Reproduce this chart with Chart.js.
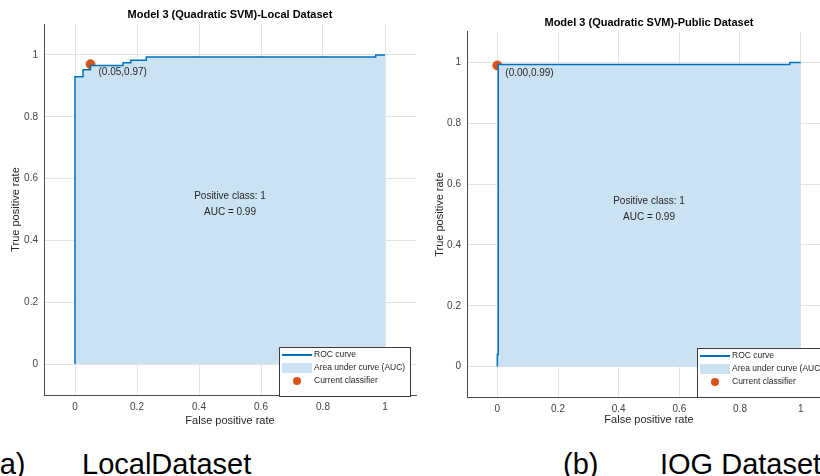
<!DOCTYPE html>
<html>
<head>
<meta charset="utf-8">
<script src="https://cdn.jsdelivr.net/npm/chart.js@4.4.1/dist/chart.umd.min.js"></script>
<style>
  html, body { margin: 0; padding: 0; background: #fff; }
  body { width: 820px; height: 476px; overflow: hidden; position: relative; font-family: "Liberation Sans", Arial, sans-serif; }
  .panel { position: absolute; top: 0; height: 440px; }
  #panelA { left: 0; width: 430px; }
  #panelB { left: 410px; width: 440px; }
  .cap { position: absolute; top: 450px; font-size: 29px; line-height: 1; color: #000; white-space: pre; }
</style>
</head>
<body>
<div class="panel" id="panelA"><canvas id="rocA"></canvas></div>
<div class="panel" id="panelB"><canvas id="rocB"></canvas></div>
<div class="cap" style="left:-10px">(a)</div>
<div class="cap" style="left:82px">LocalDataset</div>
<div class="cap" style="left:563px">(b)</div>
<div class="cap" style="left:660px">IOG Dataset</div>

<script>
// ROC points (false positive rate, true positive rate)
const localFpr = [0, 0, 0.026, 0.026, 0.05, 0.05, 0.155, 0.155, 0.18, 0.18, 0.23, 0.23, 0.97, 0.97, 1];
const localTpr = [0, 0.929, 0.929, 0.952, 0.952, 0.966, 0.966, 0.975, 0.975, 0.983, 0.983, 0.993, 0.993, 1, 1];
const publicFpr = [0, 0, 0.003, 0.003, 0.964, 0.964, 1];
const publicTpr = [0, 0.04, 0.04, 0.993, 0.993, 1, 1];

// current classifier operating points
const localOp = [0.05, 0.97];
const publicOp = [0.00, 0.99];

const tickValues = [0, 0.2, 0.4, 0.6, 0.8, 1];
const legendLabels = ['ROC curve', 'Area under curve (AUC)', 'Current classifier'];
const aucText = ['Positive class: 1', 'AUC = 0.99'];

const FONT = '"Liberation Sans", Arial, sans-serif';
const BLUE = '#0072BD';
const FILL = 'rgb(203,226,242)';
const ORANGE = '#D95319';

// text inside the plot and the legend box
const rocExtras = {
  id: 'rocExtras',
  afterDraw(chart, args, opts) {
    const { ctx, chartArea, scales: { x, y } } = chart;
    ctx.save();
    ctx.fillStyle = '#262626';
    ctx.textBaseline = 'middle';

    // operating point label
    ctx.font = '10px ' + FONT;
    ctx.textAlign = 'left';
    const op = opts.op;
    ctx.fillText('(' + op[0].toFixed(2) + ',' + op[1].toFixed(2) + ')',
      x.getPixelForValue(op[0]) + 8, y.getPixelForValue(op[1]) + 8);

    // AUC text
    ctx.textAlign = 'center';
    ctx.fillText(aucText[0], x.getPixelForValue(0.5), y.getPixelForValue(0.543));
    ctx.fillText(aucText[1], x.getPixelForValue(0.5), y.getPixelForValue(0.492));

    // legend
    ctx.font = '8.5px ' + FONT;
    const tw = Math.max(...legendLabels.map(t => ctx.measureText(t).width));
    const w = Math.round(35 + tw + 5), h = 49;
    const x0 = Math.round(chartArea.right - opts.right - w);
    const y0 = Math.round(chartArea.bottom + opts.bottom - h);
    ctx.fillStyle = '#fff';
    ctx.fillRect(x0, y0, w, h);
    ctx.strokeStyle = '#3c3c3c';
    ctx.lineWidth = 1;
    ctx.strokeRect(x0 + 0.5, y0 + 0.5, w, h);
    const rows = [8, 21, 34];
    ctx.strokeStyle = BLUE;
    ctx.lineWidth = 2;
    ctx.beginPath();
    ctx.moveTo(x0 + 3, y0 + rows[0]);
    ctx.lineTo(x0 + 33, y0 + rows[0]);
    ctx.stroke();
    ctx.fillStyle = FILL;
    ctx.fillRect(x0 + 3, y0 + rows[1] - 5, 30, 10);
    ctx.fillStyle = ORANGE;
    ctx.beginPath();
    ctx.arc(x0 + 18, y0 + rows[2], 4, 0, Math.PI * 2);
    ctx.fill();
    ctx.fillStyle = '#262626';
    ctx.textAlign = 'left';
    legendLabels.forEach((t, i) => ctx.fillText(t, x0 + 35, y0 + rows[i]));
    ctx.restore();
  }
};

function makeRoc(id, cfg) {
  const axisCommon = {
    type: 'linear',
    min: -0.1,
    max: 1.1,
    afterBuildTicks: s => { s.ticks = tickValues.map(v => ({ value: v })); },
    grid: { color: '#e3e3e3', drawTicks: false },
    border: { display: true, color: '#4a4a4a', width: 1 },
    ticks: {
      color: '#444',
      font: { size: 10, family: FONT },
      padding: 6,
      callback: v => String(Number(v.toFixed(1)))
    }
  };
  return new Chart(document.getElementById(id), {
    type: 'line',
    data: {
      datasets: [
        {
          label: legendLabels[0],
          data: cfg.fpr.map((v, i) => ({ x: v, y: cfg.tpr[i] })),
          borderColor: BLUE,
          borderWidth: 1.5,
          backgroundColor: FILL,
          fill: 'origin',
          pointRadius: 0,
          tension: 0
        },
        {
          label: legendLabels[2],
          data: [{ x: cfg.op[0], y: cfg.op[1] }],
          showLine: false,
          pointRadius: 4.5,
          pointBackgroundColor: ORANGE,
          pointBorderColor: ORANGE
        }
      ]
    },
    options: {
      responsive: true,
      maintainAspectRatio: false,
      animation: false,
      layout: { padding: { top: 0, left: 0, right: cfg.padRight, bottom: 0 } },
      plugins: {
        legend: { display: false },
        tooltip: { enabled: false },
        title: {
          display: true,
          text: cfg.title,
          fullSize: false,
          color: '#000',
          font: { size: 11, weight: 'bold', family: FONT },
          padding: { top: cfg.titleTop, bottom: 2.4 }
        },
        rocExtras: { op: cfg.op, right: cfg.legRight, bottom: cfg.legBottom }
      },
      scales: {
        x: Object.assign({}, axisCommon, {
          afterFit: s => { s.height = cfg.xHeight; },
          title: { display: true, text: 'False positive rate', color: '#262626',
                   font: { size: 11, family: FONT }, padding: { top: 0, bottom: cfg.xTitlePad } }
        }),
        y: Object.assign({}, axisCommon, {
          afterFit: s => { s.width = cfg.yWidth; },
          title: { display: true, text: 'True positive rate', color: '#262626',
                   font: { size: 11, family: FONT }, padding: { top: cfg.yTitlePad, bottom: 0 } }
        })
      }
    },
    plugins: [rocExtras]
  });
}

makeRoc('rocA', {
  fpr: localFpr, tpr: localTpr, op: localOp,
  title: 'Model 3 (Quadratic SVM)-Local Dataset',
  titleTop: 8.4, padRight: 14, yWidth: 44, xHeight: 45,
  xTitlePad: 12.4, yTitlePad: 9.8, legRight: 6, legBottom: 1
});

makeRoc('rocB', {
  fpr: publicFpr, tpr: publicTpr, op: publicOp,
  title: 'Model 3 (Quadratic SVM)-Public Dataset',
  titleTop: 16.4, padRight: 19, yWidth: 57, xHeight: 43,
  xTitlePad: 13.4, yTitlePad: 22.9, legRight: 3, legBottom: 0
});
</script>
</body>
</html>
